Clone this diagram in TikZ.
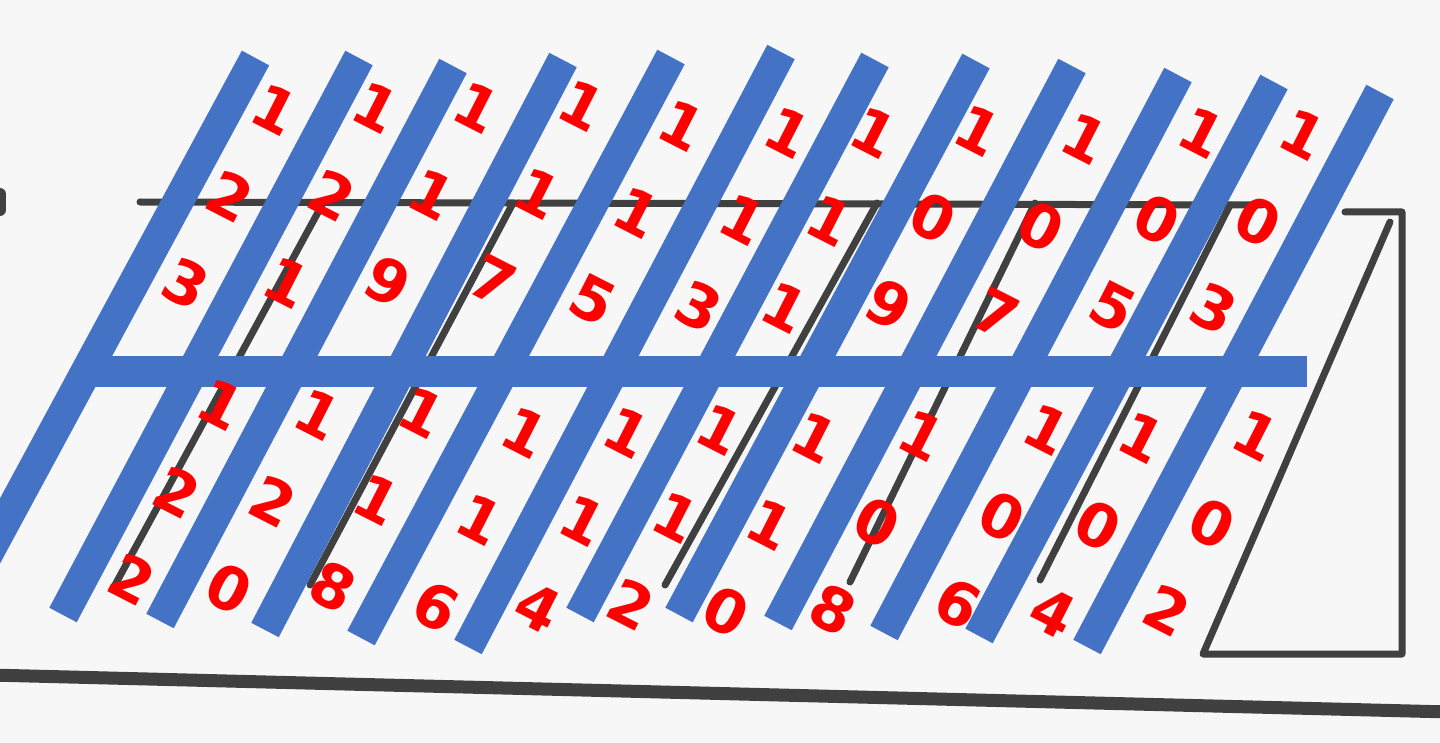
\documentclass[tikz,border=0pt]{standalone}
\usepackage{fontspec}
\newfontfamily\digitfont{DejaVu Sans}
\definecolor{barblue}{HTML}{4472C4}

\begin{document}
\begin{tikzpicture}[x=1pt, y=-1pt, bar/.style={draw=barblue, line width=31pt},
    ink/.style={draw=black!75, line width=7pt, line cap=round},
    num/.style={text=red, font=\digitfont\bfseries\fontsize{60}{98}\selectfont, align=center,
    rotate=-27, inner sep=0pt}]

  \useasboundingbox (0,0) rectangle (1440,743);
  \fill[black!3] (0,0) rectangle (1440,743);
  \clip (0,0) rectangle (1440,743);

  % scanned outline underneath
  \draw[ink] (140,202) -- (1262,205);
  \draw[ink, line join=round] (1345,212) -- (1402,212) -- (1402,654) -- (1203,654) -- (1390,222);
  \draw[ink] (322,205) -- (115,585);
  \draw[ink] (512,205) -- (310,585);
  \draw[ink] (877,203) -- (665,585);
  \draw[ink] (1035,203) -- (850,582);
  \draw[ink] (1230,205) -- (1040,580);
  \draw[ink, line width=13pt] (-10,675) -- (1450,712);
  \draw[ink, line width=12pt] (0,194) -- (0,210);

  % blue strokes
  \draw[bar] (255.5,58) -- (-40,605);
  \draw[bar] (359,58) -- (63,615);
  \draw[bar] (453,66) -- (160,621);
  \draw[bar] (563,60) -- (265,630);
  \draw[bar] (671,57) -- (361,638);
  \draw[bar] (781,52) -- (468,647);
  \draw[bar] (875,60) -- (580,615);
  \draw[bar] (976,61) -- (679,615);
  \draw[bar] (1072,66) -- (778,623);
  \draw[bar] (1178,75) -- (884,633);
  \draw[bar] (1274,82) -- (979,636);
  \draw[bar] (1380,92) -- (1087,647);
  \draw[bar] (85,371) -- (1307,371);

  % upper numbers
  \node[num] (n123) at (230,197) {1\\2\\3};
  \node[num] (n121) at (332,195) {1\\2\\1};
  \node[num] (n119) at (432,195) {1\\1\\9};
  \node[num] (n117) at (538,193) {1\\1\\7};
  \node[num] (n115) at (637,213) {1\\1\\5};
  \node[num] (n113) at (743,220) {1\\1\\3};
  \node[num] (n111) at (830,220) {1\\1\\1};
  \node[num] (n109) at (933,218) {1\\0\\9};
  \node[num] (n107) at (1041,226) {1\\0\\7};
  \node[num] (n105) at (1157,220) {1\\0\\5};
  \node[num] (n103) at (1258,222) {1\\0\\3};

  % lower numbers
  \node[num] (n122) at (177,492) {1\\2\\2};
  \node[num] (n120) at (273,502) {1\\2\\0};
  \node[num] (n118) at (377,500) {1\\1\\8};
  \node[num] (n116) at (480,520) {1\\1\\6};
  \node[num] (n114) at (583,520) {1\\1\\4};
  \node[num] (n112) at (676,517) {1\\1\\2};
  \node[num] (n110) at (770,525) {1\\1\\0};
  \node[num] (n108) at (877,523) {1\\0\\8};
  \node[num] (n106) at (1002,517) {1\\0\\6};
  \node[num] (n104) at (1098,525) {1\\0\\4};
  \node[num] (n102) at (1212,523) {1\\0\\2};

\end{tikzpicture}
\end{document}
